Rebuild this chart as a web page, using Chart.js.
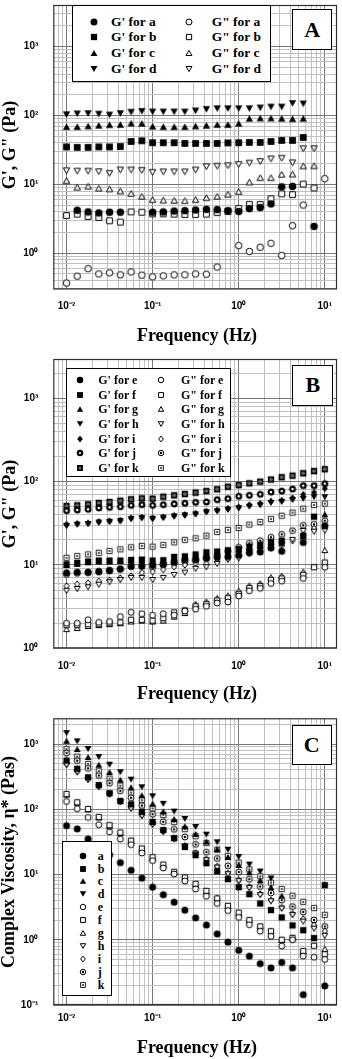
<!DOCTYPE html>
<html><head><meta charset="utf-8">
<script src="https://cdn.jsdelivr.net/npm/chart.js@4/dist/chart.umd.min.js"></script>
<style>
html,body{margin:0;padding:0;background:#fff;}
#wrap{position:relative;width:342px;height:1059px;overflow:hidden;background:#fff;}
canvas.cv{position:absolute;left:0;}
.t{position:absolute;white-space:nowrap;font-family:"Liberation Serif","Times New Roman",serif;font-weight:bold;color:#000;}
.rot{transform:translate(-50%,-50%) rotate(-90deg);}
.ctr{transform:translate(-50%,-50%);}
.box{position:absolute;background:#fff;border:1px solid #000;box-sizing:border-box;}
.letter{position:absolute;background:#fff;border:1.8px solid #000;box-sizing:border-box;font-family:"Liberation Serif",serif;font-weight:bold;font-size:22px;display:flex;align-items:center;justify-content:center;}
</style></head>
<body><div id="wrap">
<canvas id="cA" class="cv" width="342" height="350" style="top:0px"></canvas>
<canvas id="cB" class="cv" width="342" height="355" style="top:350px"></canvas>
<canvas id="cC" class="cv" width="342" height="354" style="top:705px"></canvas>
</div>
<script>
// ---------------- DATA ----------------
const freq = [0.01,0.0133,0.0178,0.0237,0.0316,0.0422,0.0562,0.075,0.1,0.133,0.178,0.237,0.316,0.422,0.562,0.75,1,1.33,1.78,2.37,3.16,4.22,5.62,7.5,10];

const xDecades = [0.01,0.1,1,10];
const xDecadeLabels = ['10⁻²','10⁻¹','10⁰','10¹'];
const yDecadesAB = [1,10,100,1000];
const yDecadeLabelsAB = ['10⁰','10¹','10²','10³'];
const yDecadesC = [0.1,1,10,100,1000];
const yDecadeLabelsC = ['10⁻¹','10⁰','10¹','10²','10³'];

// Panel A  (G', G'' in Pa)
const gpA_a  = [null,4.2,3.98,3.85,3.94,3.94,null,null,3.94,3.98,4.1,4.15,4.25,4.35,4.3,4.15,4.03,4.45,4.6,5.2,9.2,9.35,null,2.45,null];
const gppA_a = [0.369,0.464,0.597,0.5,0.518,0.485,0.535,0.48,0.454,0.469,0.485,0.485,0.5,0.495,0.63,null,1.29,1.06,1.22,1.39,0.93,2.51,5.01,null,12.1];
const gpA_b  = [35,34.5,34.5,35,35,35.5,42,43,40.3,40.3,40.3,39.4,39.4,39.4,39.4,40,40.3,40.7,40.7,42,43.5,43.5,48,null,null];
const gppA_b = [3.53,3.69,3.41,3.3,2.96,2.83,3.98,3.94,3.73,3.73,3.69,3.65,3.65,3.69,3.89,4.03,4.49,5.13,5.13,6.17,7.28,7.1,10.1,8.87,null];
const gpA_c  = [69,69,70.5,72,73.6,74,77.5,77,70,69,69,69,70.5,72,74,74,77,91,92,92,91,90,91,null,null];
const gppA_c = [11.3,9.1,9.4,8.8,8.6,8.0,7.4,6.7,6.0,5.9,5.85,5.8,6.0,6.4,6.7,7.2,7.85,10.8,12.5,12.5,14,14.1,18.5,18.6,null];
const gpA_d  = [103,106,107,105,102,107,112,115,113,113,113,113,117,123,126,126,126,126,129,133,133,150,148,null,null];
const gppA_d = [15.8,15.6,15.6,15.3,14.5,16.2,16.2,16,15,15.2,15.2,15.2,16.2,18.1,18.4,18.7,19.5,20.4,21.5,23.5,24,20.6,33,33,null];

// Panel B  (G', G'' in Pa)
const gpB_e  = [8.05,8.2,8.1,8.3,8.5,8.9,9.7,9.7,9.9,10.2,10.8,11.5,11.5,12,12.3,12.6,13.1,14,14.3,16,14.6,null,18.6,null,29.5];
const gppB_e = [2.0,2.0,2.2,2.05,2.1,2.4,2.7,2.6,2.5,2.6,2.5,2.8,2.95,3.2,3.5,3.6,4.25,4.9,5.25,6.0,6.4,null,6.9,null,9.4];
const gpB_f  = [10.2,10.6,11,11.3,11.3,11.3,11.5,11.6,11.3,11.4,12.5,12.7,13.4,14.2,14.5,15,15.5,16.5,17.5,19,19.5,null,22.5,38,null];
const gppB_f = [1.9,1.9,1.95,1.95,2.0,2.05,2.2,2.2,2.15,2.3,2.7,2.85,3.2,3.4,3.75,4.0,4.5,5.3,5.6,6.6,6.9,null,7.6,9.4,10.7];
const gpB_g  = [10,10.3,10.8,11,11,11.2,11.3,11.3,11,11.2,12,12.4,13,13.8,14.2,14.6,15.2,16,17,18.5,18.5,null,22,null,40.6];
const gppB_g = [1.7,1.75,1.85,1.9,1.95,2.0,2.1,2.15,2.1,2.15,2.4,2.65,3.4,3.63,4.0,4.3,4.9,5.65,6.0,7.1,7.4,null,8.3,null,15.1];
const gpB_h  = [29.5,30.5,31,32.3,33,33.6,35.5,36.5,35.8,37,38.3,39.4,40.5,43,44,46,48,50,52,55.5,57,60,62,65,65];
const gppB_h = [4.9,5.15,5.4,5.8,6.2,6.6,7.0,7.0,6.6,7.0,7.6,8.1,9.0,9.4,10.3,11.5,12,14.3,14.9,16.6,17.5,20,25.6,25.1,25.8];
const gpB_i  = [30.5,31.3,31.8,33,33.6,34.3,36.5,37.3,36.5,37.5,39,40,41.5,44,45.5,47.5,49.5,52.5,54.5,58,59.5,63.5,70,74,83];
const gppB_i = [5.6,5.9,6.1,6.4,6.6,7.0,7.4,8.1,8.3,8.8,9.5,10,10.5,10.5,11,12,12.6,13.8,14.7,16,17,19.6,23,27.5,29];
const gpB_j  = [44.9,45.7,46.6,48.3,49.2,50,52,53,52,53,54,55,56.5,57,60.8,62.5,66.7,68.5,70.5,75,77,81.6,89.5,89.5,94.6];
const gppB_j = [7.7,7.95,8.25,8.4,8.7,9.0,9.55,9.7,9.3,10,10.5,10.9,11.5,12.2,13,14.7,16.3,18.2,19.6,21.5,23.3,25.8,29.9,30.8,34];
const gpB_k  = [51,52,53.5,55.5,57,59,61.4,63,62.5,66,68.5,71,73.8,77,81,87,91,95.5,100,106,113,118,126,134,141];
const gppB_k = [12.2,12.8,13.4,14,14.7,15.4,16.3,16.9,16.6,17.4,18.7,20,20.9,22.5,24.9,26.3,27.8,30.5,32.8,35.6,39,42.5,47.4,52.5,54.5];

// Panel C  (complex viscosity in Pa s)
const eta_a = [56,50,35,27,20,15.2,11.6,8.8,6.4,4.9,3.76,2.84,2.16,1.68,1.23,0.92,0.69,0.56,0.43,0.37,0.45,0.37,0.144,null,0.196];
const eta_b = [557,418,309,235,176,134,119,91,64,48,36,26.4,19.8,14.9,11.2,8.5,6.4,5.0,3.6,2.85,2.2,1.66,1.4,1.06,6.85];
const eta_c = [1120,838,631,482,373,284,217,164,122,93,71,55,42,32,24.5,18.5,14,10.8,8.2,6.4,4.75,null,null,null,null];
const eta_d = [1470,1100,838,631,482,369,284,217,158,121,92,71,53.5,40.8,31.2,24,18.6,14.2,11.1,8.7,null,null,null,null,null];
const eta_e = [132,102,75,58,45,35,28.7,21.4,16.3,12.6,10.2,7.95,6.0,4.65,3.6,2.8,2.2,1.7,1.35,1.13,0.8,1.0,0.56,0.54,0.5];
const eta_f = [171,128,101,76,57,44,33,25,18.4,14.2,11,9.0,7.2,5.6,4.3,3.3,2.6,2.0,1.6,1.35,1.0,1.07,0.67,0.81,0.6];
const eta_g = [168,126,100,75,56,43.5,33,24.7,18,14,10.8,9.0,7.0,5.5,4.4,3.3,2.55,2.0,1.6,1.35,1.0,1.07,0.67,null,0.72];
const eta_h = [476,369,282,220,169,129,102,79,58,45,35,27,20.9,16.6,12.8,10.1,7.9,6.2,4.84,3.89,3.0,2.39,1.9,1.48,1.15];
const eta_i = [494,380,290,226,172,132,105,81,59.6,46,35.9,27.7,21.5,17.1,13.3,10.4,8.13,6.48,5.05,4.04,3.12,2.51,2.09,1.68,1.36];
const eta_j = [726,554,424,329,251,192,150,114,84,64.3,49.2,37.6,29,22,17.6,13.6,10.9,8.46,6.55,5.24,4.05,3.23,2.67,2.01,1.6];
const eta_k = [834,640,494,384,296,230,180,138,103,81.5,63.6,49.5,38.6,30.3,24,19.3,15.2,12,9.4,7.5,6.0,4.73,3.81,3.06,2.41];

// ---------------- MARKERS ----------------
function tri(ctx,cx,cy,r,dir){
  const c = cy + dir*0.12*r;
  ctx.moveTo(cx, c - dir*r);
  ctx.lineTo(cx + r*0.98, c + dir*r*0.72);
  ctx.lineTo(cx - r*0.98, c + dir*r*0.72);
  ctx.closePath();
}
function drawMarker(ctx,type,cx,cy,s){
  const r = s/2;
  ctx.save();
  ctx.lineWidth = 1; ctx.strokeStyle = '#000'; ctx.fillStyle = '#000';
  ctx.beginPath();
  switch(type){
    case 'fc': ctx.arc(cx,cy,r,0,Math.PI*2); ctx.fill(); break;
    case 'oc': ctx.arc(cx,cy,r-0.5,0,Math.PI*2); ctx.fillStyle='#fff'; ctx.fill(); ctx.stroke(); break;
    case 'fs': { const h=r*0.9; ctx.rect(cx-h,cy-h,2*h,2*h); ctx.fill(); break; }
    case 'os': { const h=r*0.9-0.5; ctx.rect(cx-h,cy-h,2*h,2*h); ctx.fillStyle='#fff'; ctx.fill(); ctx.stroke(); break; }
    case 'ft': tri(ctx,cx,cy,r,1); ctx.fill(); break;
    case 'ot': tri(ctx,cx,cy,r-0.5,1); ctx.fillStyle='#fff'; ctx.fill(); ctx.stroke(); break;
    case 'fv': tri(ctx,cx,cy,r,-1); ctx.fill(); break;
    case 'ov': tri(ctx,cx,cy,r-0.5,-1); ctx.fillStyle='#fff'; ctx.fill(); ctx.stroke(); break;
    case 'fd': ctx.moveTo(cx,cy-r*1.05); ctx.lineTo(cx+r*0.85,cy); ctx.lineTo(cx,cy+r*1.05); ctx.lineTo(cx-r*0.85,cy); ctx.closePath(); ctx.fill(); break;
    case 'od': { const q=r-0.5; ctx.moveTo(cx,cy-q*1.05); ctx.lineTo(cx+q*0.85,cy); ctx.lineTo(cx,cy+q*1.05); ctx.lineTo(cx-q*0.85,cy); ctx.closePath(); ctx.fillStyle='#fff'; ctx.fill(); ctx.stroke(); break; }
    case 'ring': ctx.arc(cx,cy,r-1.1,0,Math.PI*2); ctx.fillStyle='#fff'; ctx.fill(); ctx.lineWidth=2.2; ctx.stroke(); break;
    case 'cdot': ctx.arc(cx,cy,r-0.5,0,Math.PI*2); ctx.fillStyle='#fff'; ctx.fill(); ctx.stroke();
      ctx.beginPath(); ctx.arc(cx,cy,1.2,0,Math.PI*2); ctx.fillStyle='#000'; ctx.fill(); break;
    case 'sdot': { const h=r*0.9-0.9; ctx.rect(cx-h,cy-h,2*h,2*h); ctx.fillStyle='#fff'; ctx.fill(); ctx.lineWidth=1.8; ctx.stroke();
      ctx.beginPath(); ctx.rect(cx-0.8,cy-0.8,1.6,1.6); ctx.fillStyle='#000'; ctx.fill(); break; }
    case 'splus': { const h=r*0.9-0.5; ctx.strokeStyle='#222'; ctx.rect(cx-h,cy-h,2*h,2*h); ctx.fillStyle='#fff'; ctx.fill(); ctx.stroke();
      ctx.beginPath(); ctx.moveTo(cx-h+1.5,cy); ctx.lineTo(cx+h-1.5,cy); ctx.moveTo(cx,cy-h+1.5); ctx.lineTo(cx,cy+h-1.5); ctx.stroke(); break; }
  }
  ctx.restore();
}
function markerCanvas(type,s){
  const c=document.createElement('canvas'); const n=Math.ceil(s)+3;
  c.width=n; c.height=n; drawMarker(c.getContext('2d'),type,n/2,n/2,s); return c;
}

// ---------------- HELPERS ----------------
function pts(arr){ const out=[]; arr.forEach((v,i)=>{ if(v!=null) out.push({x:freq[i],y:v}); }); return out; }
function gridTicks(min,max){
  const t=[];
  for(let e=Math.floor(Math.log10(min)); e<=Math.ceil(Math.log10(max)); e++){
    for(let m=1;m<=9;m++){ const v=+(m*Math.pow(10,e)).toPrecision(6); if(v>=min && v<=max) t.push({value:v}); }
  }
  return t;
}
function isDecade(v){ const l=Math.log10(v); return Math.abs(l-Math.round(l))<1e-6; }
function labelFor(v,decs,labs){ for(let k=0;k<decs.length;k++){ if(Math.abs(v-decs[k])/decs[k]<1e-6) return labs[k]; } return ''; }

const frame = { id:'frame', afterDraw(chart){ const a=chart.chartArea, c=chart.ctx; c.save(); c.strokeStyle='#303030'; c.lineWidth=1.2; c.strokeRect(a.left+0.5,a.top+0.5,a.right-a.left-1,a.bottom-a.top-1); c.restore(); } };

function makeChart(id,H,areaTop,areaBottom,ymin,ymax,ydecs,ylabs,xpad,sets,msize){
  const xmin=0.00702, xmax=13.87;
  const datasets = sets.map(s=>({label:s[0], data:pts(s[1]), pointStyle:markerCanvas(s[2],msize), pointRadius:msize/2, showLine:false}));
  return new Chart(document.getElementById(id),{
    type:'scatter',
    data:{datasets},
    plugins:[frame],
    options:{
      responsive:false, animation:false, events:[],
      layout:{padding:{left:0,right:1.3,top:areaTop,bottom:0}},
      plugins:{legend:{display:false},tooltip:{enabled:false}},
      scales:{
        x:{type:'logarithmic',min:xmin,max:xmax,
          afterBuildTicks:s=>{ s.ticks=gridTicks(xmin,xmax); },
          afterFit:s=>{ s.height=H-areaBottom; s.paddingLeft=0; s.paddingRight=0; s.paddingTop=0; s.paddingBottom=0; },
          ticks:{autoSkip:false,maxRotation:0,padding:xpad,color:'#000',font:{family:'Liberation Sans',size:10,weight:'bold'},
            callback:v=>labelFor(v,xDecades,xDecadeLabels)},
          grid:{drawTicks:false,lineWidth:1,color:c=>isDecade(c.tick.value)?'#787878':'#c0c0c0'},
          border:{display:false}},
        y:{type:'logarithmic',min:ymin,max:ymax,
          afterBuildTicks:s=>{ s.ticks=gridTicks(ymin,ymax); },
          afterFit:s=>{ s.width=53.3; s.paddingLeft=0; s.paddingRight=0; s.paddingTop=0; s.paddingBottom=0; },
          ticks:{autoSkip:false,padding:15,color:'#000',font:{family:'Liberation Sans',size:10,weight:'bold'},
            callback:v=>labelFor(v,ydecs,ylabs)},
          grid:{drawTicks:false,lineWidth:1,color:c=>isDecade(c.tick.value)?'#787878':'#c0c0c0'},
          border:{display:false}}
      }
    }
  });
}

makeChart('cA',350,1,289.3,0.299,4036,yDecadesAB,yDecadeLabelsAB,11,[
  ["G' for a",gpA_a,'fc'],["G\" for a",gppA_a,'oc'],
  ["G' for b",gpA_b,'fs'],["G\" for b",gppA_b,'os'],
  ["G' for c",gpA_c,'ft'],["G\" for c",gppA_c,'ot'],
  ["G' for d",gpA_d,'fv'],["G\" for d",gppA_d,'ov']],7.5);

makeChart('cB',355,9,298.3,1,2965,yDecadesAB,yDecadeLabelsAB,12,[
  ["G' for e",gpB_e,'fc'],["G\" for e",gppB_e,'oc'],
  ["G' for f",gpB_f,'fs'],["G\" for f",gppB_f,'os'],
  ["G' for g",gpB_g,'ft'],["G\" for g",gppB_g,'ot'],
  ["G' for h",gpB_h,'fv'],["G\" for h",gppB_h,'ov'],
  ["G' for i",gpB_i,'fd'],["G\" for i",gppB_i,'od'],
  ["G' for j",gpB_j,'ring'],["G\" for j",gppB_j,'cdot'],
  ["G' for k",gpB_k,'sdot'],["G\" for k",gppB_k,'splus']],7);

makeChart('cC',354,13.3,300,0.1,2478,yDecadesC,yDecadeLabelsC,7,[
  ['a',eta_a,'fc'],['b',eta_b,'fs'],['c',eta_c,'ft'],['d',eta_d,'fv'],
  ['e',eta_e,'oc'],['f',eta_f,'os'],['g',eta_g,'ot'],['h',eta_h,'ov'],
  ['i',eta_i,'od'],['j',eta_j,'cdot'],['k',eta_k,'splus']],7);

// ---------------- HTML TEXT OVERLAYS ----------------
const wrap=document.getElementById('wrap');
function addText(txt,cx,cy,size,cls){ const d=document.createElement('div'); d.className='t '+cls; d.style.left=cx+'px'; d.style.top=cy+'px'; d.style.fontSize=size+'px'; d.textContent=txt; wrap.appendChild(d); }
addText('G\', G" (Pa)',9,145,18,'rot');
addText('G\', G" (Pa)',9,503.6,18,'rot');
addText('Complex Viscosity, η* (Pas)',8,861.6,18,'rot');
addText('Frequency (Hz)',197,334.5,18,'ctr');
addText('Frequency (Hz)',197,693,18,'ctr');
addText('Frequency (Hz)',197,1046.5,18,'ctr');

function addLetter(ch,l,t,w,h){ const d=document.createElement('div'); d.className='letter'; Object.assign(d.style,{left:l+'px',top:t+'px',width:w+'px',height:h+'px'}); d.textContent=ch; wrap.appendChild(d); }
addLetter('A',292.3,9.3,40,40.7);
addLetter('B',292.3,365,41,40.7);
addLetter('C',291.7,725.3,40,40);

function addLegend(l,t,w,h,items,fontSize,msize){
  const box=document.createElement('div'); box.className='box';
  Object.assign(box.style,{left:l+'px',top:t+'px',width:w+'px',height:h+'px'});
  items.forEach(it=>{
    const [txt,type,mx,tx,ry]=it;
    const c=markerCanvas(type,msize); c.style.position='absolute';
    c.style.left=(mx-c.width/2)+'px'; c.style.top=(ry-c.height/2)+'px'; box.appendChild(c);
    const s=document.createElement('div'); s.className='t'; s.style.fontSize=fontSize+'px';
    s.style.left=tx+'px'; s.style.top=ry+'px'; s.style.transform='translate(0,-50%)'; s.style.lineHeight='1';
    s.textContent=txt; box.appendChild(s);
  });
  wrap.appendChild(box);
}
// Legend A
(function(){
  const rows=[15.7,31,46.7,62.7], L=['a','b','c','d'], m1=['fc','fs','ft','fv'], m2=['oc','os','ot','ov'];
  const items=[];
  rows.forEach((y,k)=>{ items.push(["G' for "+L[k],m1[k],21.6,38.3,y]); items.push(['G" for '+L[k],m2[k],116,139,y]); });
  addLegend(71.7,5,199,76.7,items,13.5,7);
})();
// Legend B
(function(){
  const L=['e','f','g','h','i','j','k'], m1=['fc','fs','ft','fv','fd','ring','sdot'], m2=['oc','os','ot','ov','od','cdot','splus'];
  const items=[];
  L.forEach((c,k)=>{ const y=11+14.6*k; items.push(["G' for "+c,m1[k],13.6,31.6,y]); items.push(['G" for '+c,m2[k],94.3,114.3,y]); });
  addLegend(65.7,368.3,165,108.4,items,12,6.5);
})();
// Legend C
(function(){
  const L=['a','b','c','d','e','f','g','h','i','j','k'], m=['fc','fs','ft','fv','oc','os','ot','ov','od','cdot','splus'];
  const items=L.map((c,k)=>[c,m[k],19.4,34.5,14+12.9*k]);
  addLegend(62.3,840.7,49.4,155.6,items,12,6.5);
})();
</script>
</body></html>
